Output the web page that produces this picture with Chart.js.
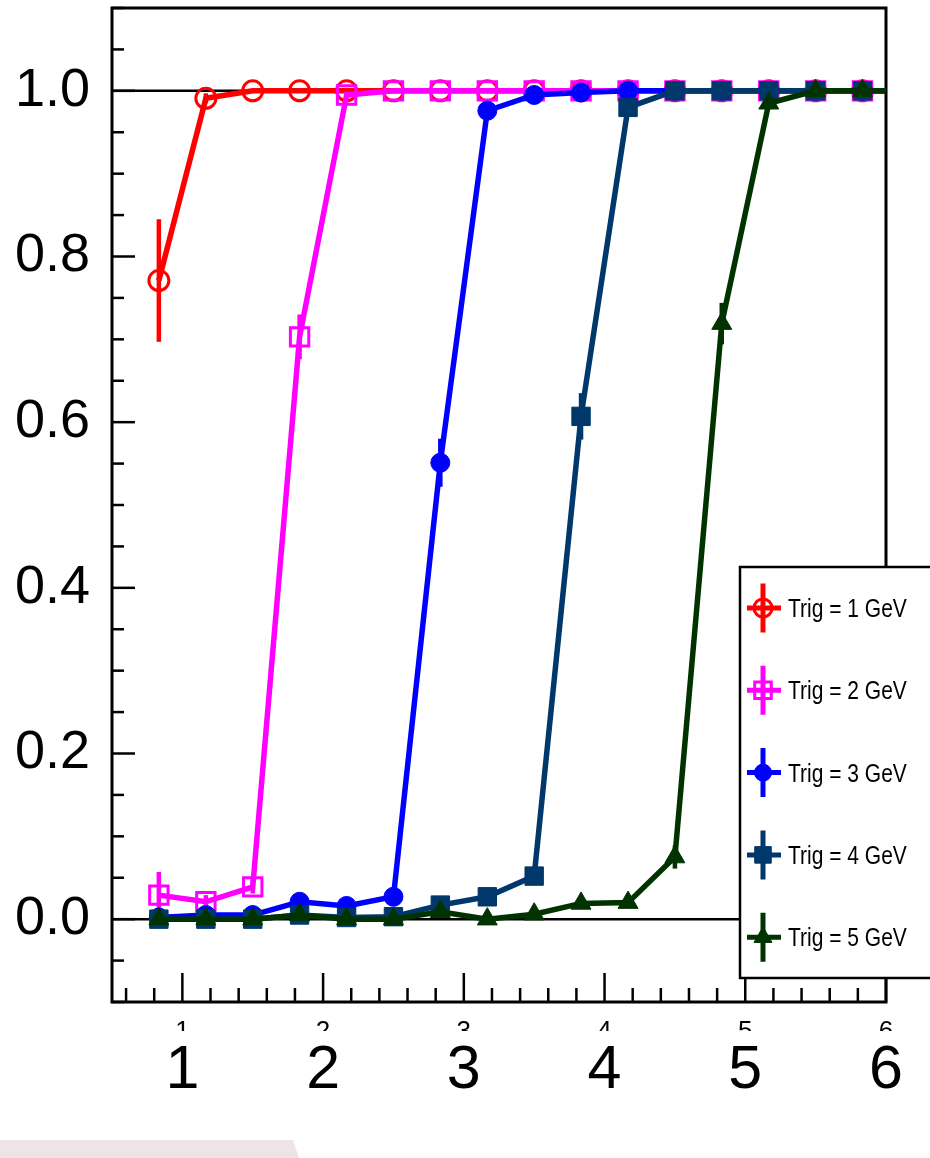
<!DOCTYPE html>
<html><head><meta charset="utf-8">
<script src="https://cdn.jsdelivr.net/npm/chart.js@4.4.0/dist/chart.umd.min.js"></script>
<style>html,body{margin:0;padding:0;background:#fff;} #wrap{position:relative;width:930px;height:1158px;overflow:hidden;} canvas{display:block}</style>
</head><body><div id="wrap"><canvas id="c" width="930" height="1158"></canvas></div>
<script>
// ---- data ----
const xCenters = [0.833, 1.167, 1.5, 1.833, 2.167, 2.5, 2.833, 3.167, 3.5, 3.833, 4.167, 4.5, 4.833, 5.167, 5.5, 5.833, 6.167];
const seriesLabels = ['Trig = 1 GeV', 'Trig = 2 GeV', 'Trig = 3 GeV', 'Trig = 4 GeV', 'Trig = 5 GeV'];
const trig1 = [0.771, 0.991, 1.0, 1.0, 1.0, 1.0, 1.0, 1.0, 1.0, 1.0, 1.0, 1.0, 1.0, 1.0, 1.0, 1.0, 1.0];
const trig1Err = [0.074, 0.006, 0, 0, 0, 0, 0, 0, 0, 0, 0, 0, 0, 0, 0, 0, 0];
const trig2 = [0.029, 0.021, 0.039, 0.703, 0.995, 1.0, 1.0, 1.0, 1.0, 1.0, 1.0, 1.0, 1.0, 1.0, 1.0, 1.0, 1.0];
const trig2Err = [0.028, 0.008, 0.008, 0.027, 0.004, 0, 0, 0, 0, 0, 0, 0, 0, 0, 0, 0, 0];
const trig3 = [0.002, 0.005, 0.005, 0.021, 0.016, 0.027, 0.551, 0.976, 0.995, 0.998, 1.0, 1.0, 1.0, 1.0, 1.0, 1.0, 1.0];
const trig3Err = [0.002, 0.003, 0.003, 0.004, 0.004, 0.006, 0.029, 0.006, 0.002, 0, 0, 0, 0, 0, 0, 0, 0];
const trig4 = [0.0, 0.0, 0.0, 0.005, 0.002, 0.003, 0.017, 0.027, 0.052, 0.607, 0.980, 1.0, 1.0, 1.0, 1.0, 1.0, 1.0];
const trig4Err = [0, 0, 0, 0.002, 0.002, 0.002, 0.004, 0.005, 0.008, 0.028, 0.006, 0, 0, 0, 0, 0, 0];
const trig5 = [0.0, 0.0, 0.0, 0.005, 0.0, 0.0, 0.009, 0.0, 0.006, 0.019, 0.020, 0.075, 0.719, 0.985, 1.0, 1.0, 1.0];
const trig5Err = [0, 0, 0, 0.002, 0, 0, 0.003, 0, 0.003, 0.005, 0.005, 0.014, 0.025, 0.005, 0, 0, 0];
const xTickValues = [1, 2, 3, 4, 5, 6];
const xTickLabels = ['1', '2', '3', '4', '5', '6'];
const yTickValues = [0, 0.2, 0.4, 0.6, 0.8, 1.0];
const yTickLabels = ['0.0', '0.2', '0.4', '0.6', '0.8', '1.0'];

const colors = ['#ff0000', '#ff00ff', '#0000ff', '#00386b', '#003300'];
const styles = ['circle', 'rect', 'circle', 'rect', 'triangle'];
const radii = [10, 13, 9.5, 13, 11.5];
const filled = [false, false, true, true, true];
const values = [trig1, trig2, trig3, trig4, trig5];
const errs = [trig1Err, trig2Err, trig3Err, trig4Err, trig5Err];

const datasets = values.map((vals, i) => ({
  label: seriesLabels[i],
  data: xCenters.map((x, k) => ({x: x, y: vals[k]})),
  borderColor: colors[i],
  borderWidth: 5.5,
  pointStyle: styles[i],
  pointRadius: radii[i],
  pointBorderWidth: filled[i] ? 1 : 3,
  pointBorderColor: colors[i],
  pointBackgroundColor: filled[i] ? colors[i] : 'rgba(0,0,0,0)',
  tension: 0,
  order: 5 - i,
  clip: 0,
  errors: errs[i]
}));

const rootPlugin = {
  id: 'rootStyle',
  beforeDatasetsDraw(chart) {
    const ctx = chart.ctx, ca = chart.chartArea;
    const xs = chart.scales.x, ys = chart.scales.y;
    ctx.save();
    ctx.strokeStyle = '#000';
    ctx.lineWidth = 2.5;
    [1.0, 0.0].forEach(v => {
      const p = ys.getPixelForValue(v);
      ctx.beginPath(); ctx.moveTo(ca.left, p); ctx.lineTo(ca.right, p); ctx.stroke();
    });
    ctx.lineWidth = 2.5;
    for (let v = -0.1; v <= 1.1001; v += 0.05) {
      const p = ys.getPixelForValue(v);
      const major = Math.abs(v / 0.2 - Math.round(v / 0.2)) < 1e-6;
      ctx.beginPath(); ctx.moveTo(ca.left, p); ctx.lineTo(ca.left + (major ? 23 : 12), p); ctx.stroke();
    }
    for (let v = 0.6; v <= 6.0001; v += 0.2) {
      const p = xs.getPixelForValue(v);
      const major = Math.abs(v - Math.round(v)) < 1e-6;
      ctx.beginPath(); ctx.moveTo(p, ca.bottom); ctx.lineTo(p, ca.bottom - (major ? 29 : 14)); ctx.stroke();
    }
    ctx.lineWidth = 3;
    ctx.strokeRect(ca.left, ca.top, ca.right - ca.left, ca.bottom - ca.top);
    ctx.restore();
  },
  beforeDatasetDraw(chart, args) {
    const ds = chart.data.datasets[args.index];
    const ctx = chart.ctx;
    const xs = chart.scales.x, ys = chart.scales.y;
    ctx.save();
    ctx.strokeStyle = ds.borderColor;
    ctx.lineWidth = 4.5;
    ds.data.forEach((pt, k) => {
      const e = ds.errors[k];
      if (!e) return;
      const px = xs.getPixelForValue(pt.x);
      ctx.beginPath();
      ctx.moveTo(px, ys.getPixelForValue(pt.y + e));
      ctx.lineTo(px, ys.getPixelForValue(pt.y - e));
      ctx.stroke();
    });
    ctx.restore();
  },
  afterDraw(chart) {
    const ctx = chart.ctx;
    const xs = chart.scales.x;
    ctx.save();
    // clipped original axis labels
    ctx.save();
    ctx.beginPath(); ctx.rect(0, 1004, 930, 27); ctx.clip();
    ctx.fillStyle = '#000';
    ctx.font = '26px "Liberation Sans", Arial, sans-serif';
    ctx.textAlign = 'center'; ctx.textBaseline = 'alphabetic';
    xs.ticks.forEach(t => { ctx.fillText(String(t.value), xs.getPixelForValue(t.value), 1039); });
    ctx.restore();
    // legend box
    const lx = 740, ly = 567, lw = 210, lh = 411;
    ctx.fillStyle = '#fff';
    ctx.fillRect(lx, ly, lw, lh);
    ctx.strokeStyle = '#000'; ctx.lineWidth = 2.5;
    ctx.strokeRect(lx, ly, lw, lh);
    chart.data.datasets.forEach((ds, i) => {
      const cy = 608 + i * 82.3, cx = 763;
      ctx.strokeStyle = ds.borderColor; ctx.lineWidth = 5;
      ctx.beginPath(); ctx.moveTo(747, cy); ctx.lineTo(781, cy); ctx.moveTo(cx, cy - 24.5); ctx.lineTo(cx, cy + 24.5); ctx.stroke();
      ctx.fillStyle = ds.pointBackgroundColor; ctx.strokeStyle = ds.pointBorderColor; ctx.lineWidth = ds.pointBorderWidth;
      Chart.helpers.drawPoint(ctx, {pointStyle: ds.pointStyle, radius: ds.pointRadius * 0.9, borderWidth: ds.pointBorderWidth, rotation: 0}, cx, cy);
      ctx.save();
      ctx.fillStyle = '#000';
      ctx.font = '25px "Liberation Sans", Arial, sans-serif';
      ctx.textAlign = 'left'; ctx.textBaseline = 'alphabetic';
      ctx.translate(788, cy + 9); ctx.scale(0.84, 1);
      ctx.fillText(ds.label, 0, 0);
      ctx.restore();
    });
    // pink decoration at the bottom
    ctx.fillStyle = '#eee3e7';
    ctx.beginPath(); ctx.moveTo(0, 1140); ctx.lineTo(293, 1140); ctx.lineTo(299, 1158); ctx.lineTo(0, 1158); ctx.closePath(); ctx.fill();
    ctx.restore();
  }
};

new Chart(document.getElementById('c'), {
  type: 'line',
  data: { datasets: datasets },
  options: {
    responsive: false, animation: false, devicePixelRatio: 1,
    layout: { autoPadding: false, padding: { left: 0, top: 8, right: 44, bottom: 0 } },
    plugins: { legend: { display: false }, tooltip: { enabled: false } },
    scales: {
      x: {
        type: 'linear', min: 0.5, max: 6,
        afterBuildTicks(s) { s.ticks = xTickValues.map(v => ({value: v})); },
        afterFit(s) { s.height = 156; s.paddingLeft = 0; s.paddingRight = 0; },
        grid: { display: false, drawTicks: false }, border: { display: false },
        ticks: { padding: 33, color: '#000', maxRotation: 0, autoSkip: false,
          font: { family: '"Liberation Sans", Arial, sans-serif', size: 61 },
          callback: (v) => xTickLabels[xTickValues.indexOf(v)] }
      },
      y: {
        type: 'linear', min: -0.1, max: 1.1,
        afterBuildTicks(s) { s.ticks = yTickValues.map(v => ({value: v})); },
        afterFit(s) { s.width = 112; s.paddingTop = 0; s.paddingBottom = 0; },
        grid: { display: false, drawTicks: false }, border: { display: false },
        ticks: { padding: 22, color: '#000', autoSkip: false,
          font: { family: '"Liberation Sans", Arial, sans-serif', size: 54 },
          callback: (v) => yTickLabels[yTickValues.indexOf(v)] }
      }
    }
  },
  plugins: [rootPlugin]
});
</script></body></html>
